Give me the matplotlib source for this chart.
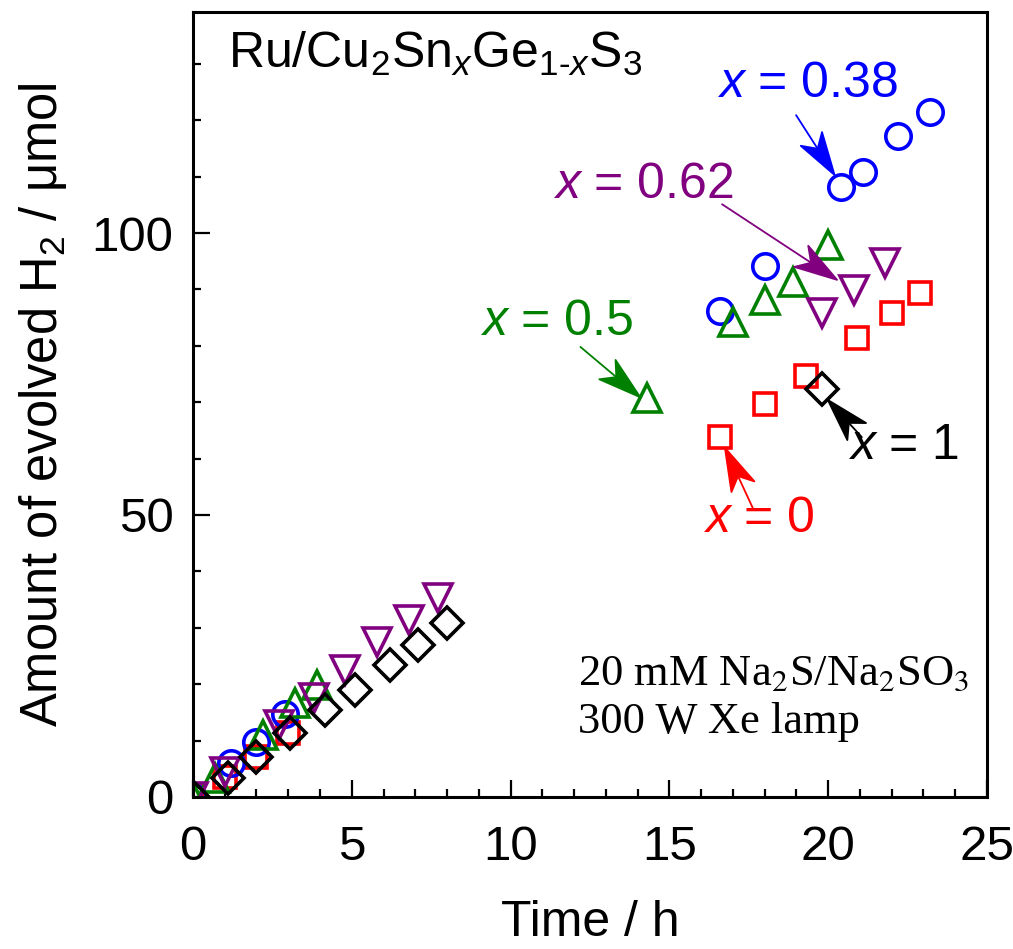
import matplotlib
matplotlib.use("Agg")
import numpy as np
import matplotlib.pyplot as plt
from matplotlib.patches import ArrowStyle
from matplotlib.path import Path
from matplotlib.ticker import MultipleLocator

plt.rcParams["font.family"] = ["Liberation Sans", "DejaVu Sans"]
plt.rcParams["mathtext.fontset"] = "custom"
plt.rcParams["mathtext.rm"] = "Liberation Sans"
plt.rcParams["mathtext.it"] = "Liberation Sans:italic"
plt.rcParams["mathtext.bf"] = "Liberation Sans:bold"

# H2 evolution over time for Ru/Cu2SnxGe1-xS3 photocatalysts
t_x0 = [0, 1.0, 2.0, 3.0, 16.6, 18.0, 19.3, 20.9, 22.0, 22.9]
h2_x0 = [0, 3.5, 7.1, 11.3, 63.8, 69.7, 74.6, 81.4, 85.8, 89.4]

t_x038 = [0, 1.2, 2.0, 2.9, 16.6, 18.0, 20.4, 21.1, 22.2, 23.2]
h2_x038 = [0, 6.0, 9.8, 14.8, 86.2, 94.1, 108.2, 110.8, 117.2, 121.4]

t_x05 = [0, 0.7, 2.2, 3.2, 3.9, 14.3, 17.0, 18.0, 18.9, 20.0]
h2_x05 = [0, 3.4, 11.0, 16.6, 19.9, 70.7, 84.2, 88.1, 91.3, 97.9]

t_x062 = [0, 1.0, 2.7, 3.8, 4.8, 5.8, 6.8, 7.7, 19.8, 20.8, 21.8]
h2_x062 = [0, 4.4, 12.8, 17.5, 22.5, 27.5, 31.4, 35.3, 85.8, 89.9, 94.7]

t_x1 = [0, 1.1, 2.0, 3.05, 4.16, 5.1, 6.2, 7.1, 8.0, 19.8]
h2_x1 = [0, 3.4, 7.1, 11.3, 15.4, 19.0, 23.4, 27.0, 30.8, 72.3]

x_ticks = [0, 5, 10, 15, 20, 25]
y_ticks = [0, 50, 100]


class NotchedArrow(ArrowStyle._Base):
    """Straight line ending in a filled arrowhead with a notched back."""

    def __init__(self, head_length=2.2, head_width=0.65, notch=0.6):
        self.head_length = head_length
        self.head_width = head_width
        self.notch = notch
        super().__init__()

    def transmute(self, path, mutation_size, linewidth):
        (x0, y0), (x1, y1) = path.vertices[0], path.vertices[-1]
        d = np.array([x1 - x0, y1 - y0], dtype=float)
        d /= np.hypot(*d)
        n = np.array([-d[1], d[0]])
        tip = np.array([x1, y1])
        L = self.head_length * mutation_size
        W = self.head_width * mutation_size
        N = self.notch * mutation_size
        back = tip - L * d
        notch_pt = tip - (L - N) * d
        line = Path([(x0, y0), tuple(notch_pt)], [Path.MOVETO, Path.LINETO])
        head = Path([tuple(tip), tuple(back + W * n), tuple(notch_pt),
                     tuple(back - W * n), tuple(tip)],
                    [Path.MOVETO, Path.LINETO, Path.LINETO, Path.LINETO,
                     Path.CLOSEPOLY])
        return [line, head], [False, True]


fig = plt.figure(figsize=(10.13, 9.49), dpi=100)
ax = fig.add_axes([0.1905, 0.1602, 0.7838, 0.8272])

mew = 2.6
ax.plot(t_x0, h2_x0, ls="none", marker="s", ms=15.8, mfc="none", mec="#ff0000", mew=mew)
ax.plot(t_x038, h2_x038, ls="none", marker="o", ms=18.3, mfc="none", mec="#0000ff", mew=mew)
ax.plot(t_x05, h2_x05, ls="none", marker="^", ms=20.5, mfc="none", mec="#008000", mew=mew)
ax.plot(t_x062, h2_x062, ls="none", marker="v", ms=20.5, mfc="none", mec="#800080", mew=mew)
ax.plot(t_x1, h2_x1, ls="none", marker="D", ms=16.3, mfc="none", mec="#000000", mew=mew)

ax.set_xlim(0, 25)
ax.set_ylim(0, 139.2)
ax.set_xticks(x_ticks)
ax.set_yticks(y_ticks)
ax.xaxis.set_minor_locator(MultipleLocator(1))
ax.yaxis.set_minor_locator(MultipleLocator(10))
ax.tick_params(which="both", direction="in", width=1.6, top=False, right=False,
               labelsize=35.5)
ax.tick_params(which="major", length=12)
ax.tick_params(which="minor", length=6)
ax.tick_params(axis="x", pad=20)
ax.tick_params(axis="y", pad=14)
for s in ax.spines.values():
    s.set_linewidth(2.2)

ax.set_xlabel("Time / h", fontsize=36, labelpad=22)
ax.set_ylabel("Amount of evolved H$_2$ / \u03bcmol", fontsize=36.5, labelpad=16)

ax.text(1.1, 129.3, "Ru/Cu$_2$Sn$_x$Ge$_{1\\text{-}x}$S$_3$", fontsize=36,
        ha="left", va="baseline")

serif = ["Liberation Serif", "DejaVu Serif"]
ax.text(12.12, 19.9, "20 mM Na$_2$S/Na$_2$SO$_3$", fontsize=32, family=serif,
        math_fontfamily="stix", ha="left", va="baseline")
ax.text(12.12, 11.3, "300 W Xe lamp", fontsize=32, family=serif,
        ha="left", va="baseline")

# labels with arrows pointing at the series
notes = [
    ("$x$ = 0.38", "#0000ff", (16.5, 124.1), (18.99, 120.9), (20.2, 110.3)),
    ("$x$ = 0.62", "#800080", (11.33, 106.2), (16.66, 105.1), (20.28, 91.7)),
    ("$x$ = 0.5", "#008000", (9.04, 81.9), (12.2, 79.8), (14.08, 70.9)),
    ("$x$ = 0", "#ff0000", (16.06, 47.0), (17.63, 51.2), (16.75, 61.9)),
    ("$x$ = 1", "#000000", (20.62, 59.9), (21.06, 63.8), (19.99, 70.4)),
]
for label, color, pos, tail, tip in notes:
    ax.text(pos[0], pos[1], label, color=color, fontsize=36, ha="left", va="baseline")
    ax.annotate("", xy=tip, xytext=tail,
                arrowprops=dict(arrowstyle=NotchedArrow(), color=color, lw=1.3,
                                shrinkA=0, shrinkB=0, mutation_scale=14))

fig.savefig("out.png", dpi=100)
